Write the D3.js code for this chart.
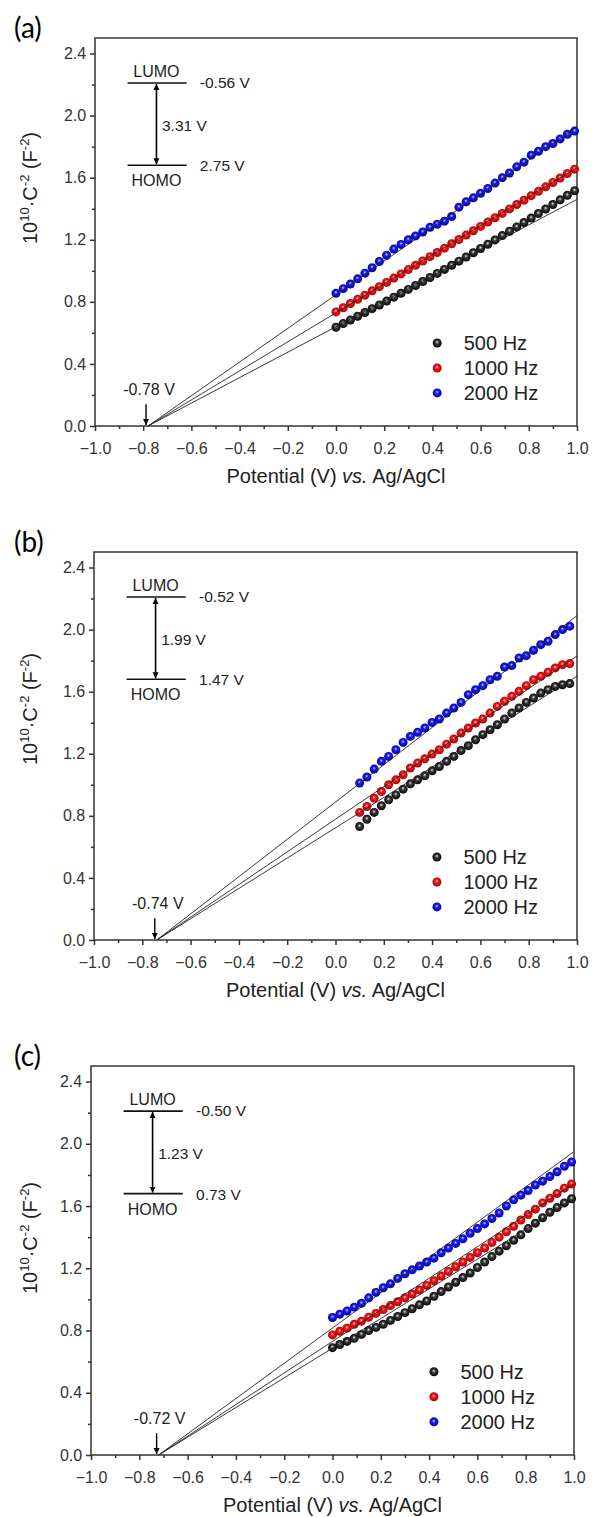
<!DOCTYPE html>
<html><head><meta charset="utf-8">
<script src="https://cdn.jsdelivr.net/npm/d3@7"></script>
<style>body{margin:0;background:#fff}svg{display:block}</style>
</head><body><svg id="chart" width="592" height="1517"></svg>
<script>
// ---------- data ----------
const xTicks = [-1.0, -0.8, -0.6, -0.4, -0.2, 0.0, 0.2, 0.4, 0.6, 0.8, 1.0];
const yTicks = [0.0, 0.4, 0.8, 1.2, 1.6, 2.0, 2.4];
const seriesNames = ["500 Hz", "1000 Hz", "2000 Hz"];
const seriesColors = ["#111111", "#ee1111", "#1111ee"];
const panelLabels = ["(a)", "(b)", "(c)"];

const xA = [0.00,0.03,0.06,0.09,0.12,0.15,0.18,0.21,0.24,0.27,0.30,0.33,0.36,0.39,0.42,0.45,0.48,0.51,0.54,0.57,0.60,0.63,0.66,0.69,0.72,0.75,0.78,0.81,0.84,0.87,0.90,0.93,0.96,0.99];
const a500 = [0.636,0.660,0.683,0.707,0.731,0.756,0.780,0.805,0.830,0.855,0.880,0.905,0.931,0.957,0.983,1.009,1.036,1.062,1.089,1.116,1.144,1.171,1.199,1.227,1.255,1.283,1.311,1.340,1.369,1.398,1.427,1.457,1.486,1.516];
const a1000 = [0.735,0.762,0.789,0.816,0.843,0.871,0.898,0.925,0.953,0.980,1.008,1.035,1.063,1.091,1.118,1.146,1.174,1.202,1.230,1.258,1.286,1.314,1.342,1.370,1.399,1.427,1.455,1.484,1.512,1.541,1.569,1.598,1.627,1.655];
const a2000 = [0.855,0.885,0.915,0.948,0.985,1.020,1.060,1.100,1.140,1.170,1.200,1.225,1.250,1.280,1.300,1.320,1.350,1.410,1.445,1.470,1.500,1.530,1.565,1.600,1.630,1.670,1.700,1.745,1.770,1.800,1.820,1.850,1.880,1.900];

const xB = [0.10,0.13,0.16,0.19,0.22,0.25,0.28,0.31,0.34,0.37,0.40,0.43,0.46,0.49,0.52,0.55,0.58,0.61,0.64,0.67,0.70,0.73,0.76,0.79,0.82,0.85,0.88,0.91,0.94,0.97];
const b500 = [0.731,0.778,0.822,0.865,0.903,0.935,0.972,1.006,1.032,1.058,1.090,1.118,1.151,1.183,1.221,1.252,1.290,1.323,1.355,1.387,1.424,1.462,1.495,1.531,1.559,1.591,1.613,1.634,1.645,1.652];
const b1000 = [0.822,0.860,0.914,0.957,1.000,1.032,1.065,1.108,1.140,1.168,1.198,1.226,1.262,1.295,1.333,1.366,1.398,1.424,1.462,1.505,1.538,1.570,1.602,1.639,1.677,1.699,1.725,1.753,1.774,1.781];
const b2000 = [1.011,1.050,1.101,1.151,1.183,1.226,1.273,1.312,1.338,1.366,1.402,1.424,1.462,1.495,1.531,1.581,1.613,1.639,1.677,1.699,1.759,1.768,1.817,1.832,1.867,1.903,1.925,1.968,2.000,2.022];

const xC = [0.00,0.03,0.06,0.09,0.12,0.15,0.18,0.21,0.24,0.27,0.30,0.33,0.36,0.39,0.42,0.45,0.48,0.51,0.54,0.57,0.60,0.63,0.66,0.69,0.72,0.75,0.78,0.81,0.84,0.87,0.90,0.93,0.96,0.99];
const c500 = [0.690,0.710,0.730,0.750,0.775,0.800,0.820,0.840,0.865,0.890,0.915,0.940,0.965,0.990,1.020,1.050,1.080,1.110,1.140,1.170,1.205,1.240,1.275,1.310,1.345,1.380,1.415,1.455,1.490,1.525,1.560,1.590,1.620,1.647];
const c1000 = [0.772,0.795,0.815,0.840,0.860,0.885,0.910,0.935,0.960,0.985,1.010,1.035,1.060,1.090,1.120,1.150,1.180,1.210,1.240,1.270,1.300,1.330,1.365,1.400,1.435,1.470,1.510,1.545,1.580,1.620,1.650,1.680,1.715,1.742];
const c2000 = [0.884,0.905,0.925,0.950,0.975,1.010,1.045,1.075,1.100,1.135,1.165,1.190,1.215,1.240,1.265,1.300,1.330,1.360,1.390,1.425,1.455,1.485,1.520,1.555,1.600,1.640,1.670,1.700,1.735,1.760,1.790,1.820,1.855,1.883];

// fitted Mott-Schottky lines: x-intercept and value at x = 1.0
const intercepts = [-0.78, -0.74, -0.72];
const fitEndA = [1.46, 1.665, 1.93];
const fitEndB = [1.70, 1.83, 2.09];
const fitEndC = [1.64, 1.744, 1.95];

const lumoLabels = ["-0.56 V", "-0.52 V", "-0.50 V"];
const homoLabels = ["2.75 V", "1.47 V", "0.73 V"];
const gapLabels = ["3.31 V", "1.99 V", "1.23 V"];
const interceptLabels = ["-0.78 V", "-0.74 V", "-0.72 V"];

// ---------- layout ----------
const panels = [
  {left: 95, right: 577, top: 38, bottom: 426, ylab: 150, x: xA, ys: [a500, a1000, a2000], fit: fitEndA},
  {left: 94, right: 577, top: 552, bottom: 940, ylab: 157, x: xB, ys: [b500, b1000, b2000], fit: fitEndB},
  {left: 91, right: 574, top: 1066, bottom: 1455, ylab: 172, x: xC, ys: [c500, c1000, c2000], fit: fitEndC}
];
const FONT = "'Liberation Sans', Arial, sans-serif";
const axisColor = "#333";

const svg = d3.select("#chart");
const defs = svg.append("defs");
const gradStops = [
  ["#e8e8e8", "#3a3a3a", "#000000"],
  ["#ffd6d6", "#f01818", "#a80000"],
  ["#d6d6ff", "#1c1cf0", "#0000a0"]
];
gradStops.forEach((s, i) => {
  const g = defs.append("radialGradient").attr("id", "ball" + i)
    .attr("cx", "50%").attr("cy", "50%").attr("r", "55%").attr("fx", "48%").attr("fy", "38%");
  g.append("stop").attr("offset", "0%").attr("stop-color", s[0]);
  g.append("stop").attr("offset", "35%").attr("stop-color", s[1]);
  g.append("stop").attr("offset", "100%").attr("stop-color", s[2]);
});
const mk = defs.append("marker").attr("id", "head").attr("viewBox", "0 0 10 10")
  .attr("refX", 10).attr("refY", 5).attr("markerUnits", "userSpaceOnUse")
  .attr("markerWidth", 6).attr("markerHeight", 9).attr("orient", "auto-start-reverse");
mk.append("path").attr("d", "M0,0 L10,5 L0,10 Z").attr("fill", "#000");

panels.forEach((p, pi) => {
  const w = p.right - p.left, h = p.bottom - p.top;
  const x = d3.scaleLinear().domain([-1, 1]).range([0, w]);
  const y = d3.scaleLinear().domain([0, 2.5]).range([h, 0]);
  const g = svg.append("g").attr("transform", `translate(${p.left},${p.top})`);

  // panel label
  svg.append("text").attr("x", 14).attr("y", p.top)
    .attr("font-family", "Lato, 'Open Sans', sans-serif").attr("font-size", 28)
    .attr("fill", "#000").text(panelLabels[pi]);

  // frame
  g.append("rect").attr("x", 0).attr("y", 0).attr("width", w).attr("height", h)
    .attr("fill", "none").attr("stroke", axisColor).attr("stroke-width", 1.5);

  // axes
  const xAxis = d3.axisBottom(x).tickValues(xTicks).tickSize(5).tickSizeOuter(0)
    .tickFormat(d3.format(".1f"));
  const xg = g.append("g").attr("transform", `translate(0,${h})`).call(xAxis);
  const xMinor = d3.axisBottom(x).tickValues(d3.range(-0.9, 1.0, 0.2)).tickSize(3).tickSizeOuter(0).tickFormat("");
  const xmg = g.append("g").attr("transform", `translate(0,${h})`).call(xMinor);
  const yAxis = d3.axisLeft(y).tickValues(yTicks).tickSize(5).tickSizeOuter(0)
    .tickFormat(d3.format(".1f"));
  const yg = g.append("g").call(yAxis);
  const yMinor = d3.axisLeft(y).tickValues([0.2, 0.6, 1.0, 1.4, 1.8, 2.2]).tickSize(3).tickSizeOuter(0).tickFormat("");
  const ymg = g.append("g").call(yMinor);
  [xg, xmg, yg, ymg].forEach(a => {
    a.select(".domain").remove();
    a.selectAll("line").attr("stroke", axisColor).attr("stroke-width", 1.5);
    a.selectAll("text").attr("font-family", FONT).attr("font-size", 16).attr("fill", "#333");
  });
  xg.selectAll("text").attr("dy", "1.25em");
  yg.selectAll("text").attr("dx", "-0.05em");

  // x axis title
  const xt = g.append("text").attr("x", w / 2).attr("y", h + 57).attr("text-anchor", "middle")
    .attr("font-family", FONT).attr("font-size", 20).attr("fill", "#222");
  xt.append("tspan").text("Potential (V) ");
  xt.append("tspan").attr("font-style", "italic").text("vs.");
  xt.append("tspan").text(" Ag/AgCl");

  // y axis title
  const yt = svg.append("text").attr("transform", `translate(37,${p.top + p.ylab}) rotate(-90)`)
    .attr("text-anchor", "middle").attr("font-family", FONT).attr("font-size", 20).attr("fill", "#222");
  yt.append("tspan").text("10");
  yt.append("tspan").attr("font-size", 13).attr("dy", -8).text("10");
  yt.append("tspan").attr("dy", 8).text("·C");
  yt.append("tspan").attr("font-size", 13).attr("dy", -8).text("-2");
  yt.append("tspan").attr("dy", 8).text(" (F");
  yt.append("tspan").attr("font-size", 13).attr("dy", -8).text("-2");
  yt.append("tspan").attr("dy", 8).text(")");

  // data balls
  p.ys.forEach((ys, si) => {
    g.append("g").selectAll("circle").data(ys).join("circle")
      .attr("cx", (d, i) => x(p.x[i])).attr("cy", d => y(d)).attr("r", 4.5)
      .attr("fill", `url(#ball${si})`);
  });

  // fitted lines
  p.fit.forEach(v => {
    g.append("line").attr("x1", x(intercepts[pi])).attr("y1", y(0))
      .attr("x2", x(1.0)).attr("y2", y(v))
      .attr("stroke", "#222").attr("stroke-width", 0.9);
  });

  // legend
  seriesNames.forEach((n, si) => {
    const ly = y(0.535 - si * 0.161);
    g.append("circle").attr("cx", x(0.42)).attr("cy", ly).attr("r", 4.5).attr("fill", `url(#ball${si})`);
    g.append("text").attr("x", x(0.53)).attr("y", ly + 7).attr("font-family", FONT)
      .attr("font-size", 20).attr("fill", "#222").text(n);
  });

  // intercept arrow + label
  const ix = x(intercepts[pi]) - 2;
  g.append("line").attr("x1", ix).attr("y1", y(0.14)).attr("x2", ix).attr("y2", y(0) - 1)
    .attr("stroke", "#000").attr("stroke-width", 1.4).attr("marker-end", "url(#head)");
  g.append("text").attr("x", ix + 3).attr("y", y(0.20)).attr("text-anchor", "middle")
    .attr("font-family", FONT).attr("font-size", 16).attr("fill", "#222").text(interceptLabels[pi]);

  // energy level diagram
  const lx1 = x(-0.865), lx2 = x(-0.62), ax = x(-0.745);
  const ly1 = y(2.21), ly2 = y(1.68);
  g.append("line").attr("x1", lx1).attr("x2", lx2).attr("y1", ly1).attr("y2", ly1).attr("stroke", "#111").attr("stroke-width", 1.6);
  g.append("line").attr("x1", lx1).attr("x2", lx2).attr("y1", ly2).attr("y2", ly2).attr("stroke", "#111").attr("stroke-width", 1.6);
  g.append("line").attr("x1", ax).attr("x2", ax).attr("y1", ly1 + 1).attr("y2", ly2 - 1)
    .attr("stroke", "#000").attr("stroke-width", 1.6)
    .attr("marker-start", "url(#head)").attr("marker-end", "url(#head)");
  const tt = (tx, ty, s, anchor, fs) => g.append("text").attr("x", tx).attr("y", ty)
    .attr("text-anchor", anchor).attr("font-family", FONT).attr("font-size", fs).attr("fill", "#222").text(s);
  tt(ax, ly1 - 6, "LUMO", "middle", 16);
  tt(ax, ly2 + 21, "HOMO", "middle", 16);
  tt(x(-0.565), ly1 + 5, lumoLabels[pi], "start", 15.5);
  tt(x(-0.565), ly2 + 6, homoLabels[pi], "start", 15.5);
  tt(x(-0.722), y(1.90), gapLabels[pi], "start", 15.5);
});
</script></body></html>
